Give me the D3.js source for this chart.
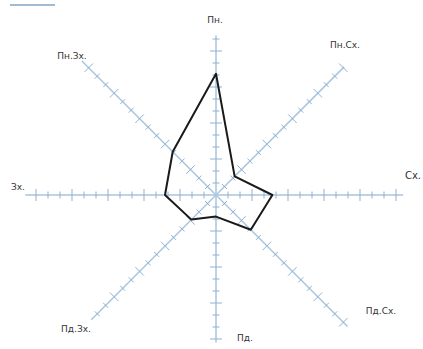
<!DOCTYPE html>
<html>
<head>
<meta charset="utf-8">
<script src="https://cdn.jsdelivr.net/npm/d3@7"></script>
<style>
html,body{margin:0;padding:0;background:#fff;}
svg{display:block;}
</style>
</head>
<body>
<svg id="chart" width="423" height="349"></svg>
<script>
const directions = ["Пн.", "Пн.Сх.", "Сх.", "Пд.Сх.", "Пд.", "Пд.Зх.", "Зх.", "Пн.Зх."];
const values = [10.1, 2.2, 4.7, 4.1, 1.8, 2.9, 4.25, 5.1];
const axisExtent = [13.3, 15.1, 15.6, 15.5, 12.3, 14.7, 15.9, 15.8];
const tickValues = d3.range(1, 16, 1);

const svg = d3.select("#chart");
const cx = 216, cy = 195;
const r = d3.scaleLinear().domain([0, 16]).range([0, 192]);
const angle = d3.scalePoint().domain(directions).range([0, 2 * Math.PI * 7 / 8]);

function pt(dir, v) {
  const a = angle(dir) - Math.PI / 2;
  return [cx + r(v) * Math.cos(a), cy + r(v) * Math.sin(a)];
}

// decorative stroke top-left
svg.append("line").attr("x1", 10).attr("y1", 5).attr("x2", 55).attr("y2", 5)
  .attr("stroke", "#7d9fc0").attr("stroke-width", 2).attr("opacity", 0.7);

const g = svg.append("g");
directions.forEach((d, i) => {
  const [x2, y2] = pt(d, axisExtent[i]);
  g.append("line").attr("x1", cx).attr("y1", cy).attr("x2", x2).attr("y2", y2)
    .attr("stroke", "#a8c6de").attr("stroke-width", 1.5);
  const a = angle(d) - Math.PI / 2;
  const px = -Math.sin(a), py = Math.cos(a);
  tickValues.filter(t => t < axisExtent[i]).forEach(t => {
    const [x, y] = pt(d, t);
    const len = (t % 3 === 0) ? 6 : 3.5;
    g.append("line")
      .attr("x1", x - px * len).attr("y1", y - py * len)
      .attr("x2", x + px * len).attr("y2", y + py * len)
      .attr("stroke", "#8fb2d2").attr("stroke-width", 1);
  });
});

const labelPos = {
  "Пн.": [215, 23], "Пн.Сх.": [345, 48], "Сх.": [421, 179], "Пд.Сх.": [381, 314],
  "Пд.": [245, 341], "Пд.Зх.": [76, 332], "Зх.": [18, 190], "Пн.Зх.": [72, 59]
};
directions.forEach(d => {
  svg.append("text").attr("x", labelPos[d][0]).attr("y", labelPos[d][1])
    .attr("text-anchor", d === "Сх." ? "end" : "middle")
    .attr("font-family", "DejaVu Sans, sans-serif")
    .attr("font-size", d === "Сх." ? 10 : 9)
    .attr("fill", "#333").text(d);
});

const line = d3.line().curve(d3.curveLinearClosed);
svg.append("path")
  .attr("d", line(directions.map((d, i) => pt(d, values[i]))))
  .attr("fill", "none").attr("stroke", "#1a1a1a").attr("stroke-width", 2)
  .attr("stroke-linejoin", "round");
</script>
</body>
</html>
